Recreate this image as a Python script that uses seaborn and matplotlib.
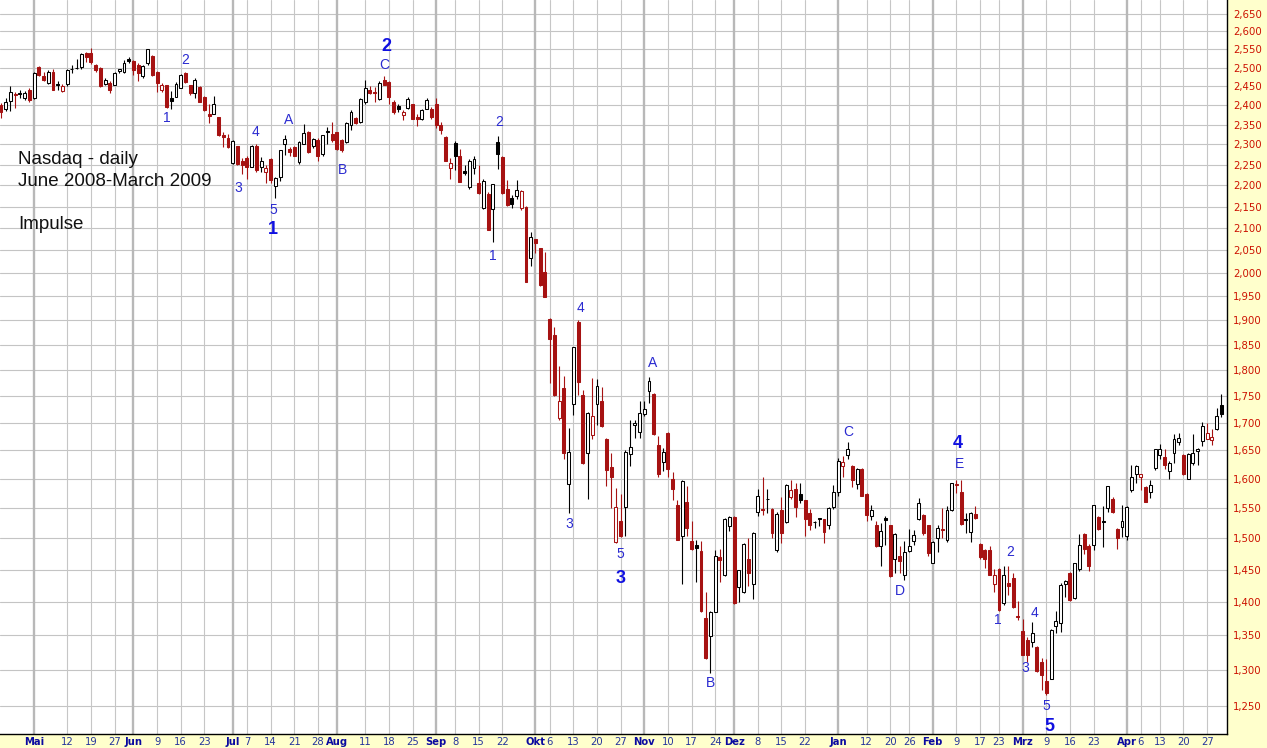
import numpy as np
import pandas as pd
import matplotlib
matplotlib.use('Agg')
import matplotlib.pyplot as plt
import matplotlib.ticker as mticker
import seaborn as sns

# Trading days (US market holidays removed)
holidays = ['2008-05-26', '2008-07-04', '2008-09-01', '2008-11-27', '2008-12-25',
            '2009-01-01', '2009-01-19', '2009-02-16', '2009-04-10']
dates = pd.bdate_range('2008-04-22', '2009-04-30', freq='C', holidays=holidays)

opens = [
    2400, 2391, 2411, 2430, 2431, 2418, 2441, 2419, 2502, 2478,
    2459, 2487, 2456, 2437, 2456, 2497, 2500, 2502, 2541, 2540,
    2508, 2500, 2456, 2459, 2454, 2490, 2489, 2522, 2518, 2506,
    2476, 2511, 2532, 2489, 2439, 2452, 2418, 2422, 2445, 2484,
    2452, 2432, 2447, 2421, 2378, 2378, 2368, 2323, 2316, 2254,
    2296, 2260, 2265, 2245, 2297, 2243, 2232, 2264, 2199, 2219,
    2300, 2288, 2294, 2256, 2302, 2331, 2295, 2310, 2277, 2333,
    2327, 2330, 2312, 2307, 2350, 2367, 2357, 2407, 2441, 2434,
    2416, 2467, 2461, 2407, 2398, 2374, 2393, 2402, 2368, 2363,
    2391, 2391, 2404, 2350, 2318, 2241, 2303, 2272, 2235, 2196,
    2241, 2206, 2147, 2180, 2145, 2305, 2268, 2192, 2169, 2174,
    2147, 2150, 2033, 2075, 2055, 2003, 1902, 1870, 1709, 1765,
    1591, 1735, 1897, 1753, 1645, 1678, 1735, 1741, 1671, 1621,
    1494, 1528, 1551, 1643, 1697, 1684, 1717, 1760, 1755, 1660,
    1630, 1682, 1599, 1556, 1503, 1560, 1496, 1489, 1480, 1375,
    1349, 1385, 1470, 1441, 1520, 1535, 1423, 1415, 1466, 1427,
    1543, 1549, 1566, 1548, 1481, 1546, 1527, 1568, 1583, 1573,
    1563, 1541, 1527, 1534, 1531, 1522, 1551, 1578, 1622, 1641,
    1623, 1591, 1617, 1574, 1536, 1522, 1488, 1533, 1521, 1466,
    1472, 1441, 1480, 1495, 1531, 1539, 1521, 1460, 1500, 1514,
    1497, 1546, 1590, 1577, 1532, 1511, 1540, 1490, 1481, 1481,
    1427, 1451, 1398, 1429, 1436, 1379, 1357, 1343, 1340, 1333,
    1312, 1285, 1288, 1364, 1369, 1428, 1445, 1406, 1451, 1507,
    1488, 1489, 1535, 1528, 1550, 1565, 1516, 1518, 1503, 1580,
    1609, 1604, 1586, 1577, 1618, 1641, 1638, 1613, 1645, 1665,
    1642, 1600, 1628, 1649, 1667, 1671, 1668, 1688, 1734,
]
highs = [
    2405, 2418, 2450, 2434, 2441, 2438, 2445, 2487, 2503, 2489,
    2493, 2497, 2463, 2456, 2496, 2506, 2524, 2541, 2543, 2554,
    2510, 2502, 2471, 2463, 2489, 2497, 2520, 2529, 2520, 2511,
    2506, 2552, 2534, 2491, 2459, 2454, 2436, 2461, 2482, 2487,
    2454, 2473, 2450, 2423, 2402, 2425, 2370, 2331, 2327, 2310,
    2297, 2265, 2272, 2299, 2300, 2268, 2248, 2266, 2220, 2287,
    2324, 2293, 2297, 2308, 2352, 2333, 2316, 2315, 2324, 2344,
    2356, 2331, 2314, 2356, 2387, 2370, 2419, 2467, 2450, 2447,
    2463, 2476, 2463, 2413, 2402, 2387, 2420, 2404, 2378, 2391,
    2418, 2396, 2418, 2357, 2320, 2265, 2308, 2289, 2248, 2264,
    2272, 2248, 2216, 2184, 2204, 2322, 2270, 2212, 2176, 2212,
    2190, 2152, 2092, 2076, 2055, 2046, 1905, 1887, 1808, 1788,
    1690, 1845, 1900, 1762, 1720, 1785, 1783, 1768, 1673, 1645,
    1584, 1574, 1650, 1705, 1705, 1741, 1740, 1786, 1757, 1676,
    1654, 1683, 1612, 1564, 1598, 1588, 1528, 1498, 1495, 1415,
    1386, 1481, 1483, 1533, 1537, 1536, 1450, 1493, 1500, 1511,
    1583, 1603, 1583, 1550, 1543, 1568, 1591, 1598, 1593, 1593,
    1564, 1549, 1528, 1534, 1532, 1552, 1590, 1636, 1640, 1666,
    1625, 1619, 1619, 1575, 1556, 1528, 1525, 1537, 1522, 1508,
    1488, 1496, 1516, 1514, 1567, 1540, 1522, 1495, 1522, 1550,
    1553, 1593, 1598, 1598, 1542, 1543, 1553, 1492, 1482, 1487,
    1451, 1452, 1455, 1455, 1444, 1401, 1374, 1348, 1370, 1334,
    1317, 1316, 1359, 1386, 1429, 1434, 1446, 1461, 1507, 1508,
    1491, 1555, 1536, 1554, 1588, 1569, 1517, 1556, 1554, 1624,
    1625, 1609, 1587, 1598, 1653, 1662, 1652, 1631, 1679, 1682,
    1644, 1645, 1680, 1654, 1701, 1700, 1689, 1727, 1755,
]
lows = [
    2366, 2384, 2384, 2393, 2418, 2414, 2409, 2417, 2478, 2463,
    2456, 2439, 2441, 2435, 2450, 2484, 2496, 2496, 2515, 2510,
    2489, 2447, 2452, 2433, 2452, 2484, 2484, 2511, 2480, 2463,
    2473, 2508, 2476, 2434, 2434, 2393, 2391, 2420, 2444, 2458,
    2427, 2418, 2407, 2385, 2354, 2376, 2321, 2293, 2291, 2252,
    2250, 2228, 2216, 2244, 2233, 2232, 2205, 2206, 2170, 2210,
    2274, 2272, 2270, 2252, 2300, 2278, 2291, 2260, 2272, 2300,
    2307, 2285, 2281, 2304, 2336, 2352, 2354, 2404, 2428, 2407,
    2413, 2452, 2404, 2376, 2383, 2361, 2391, 2363, 2347, 2361,
    2389, 2364, 2340, 2325, 2258, 2216, 2238, 2208, 2224, 2192,
    2228, 2180, 2144, 2097, 2068, 2239, 2180, 2152, 2147, 2168,
    2142, 1981, 2015, 2044, 1973, 1948, 1776, 1750, 1706, 1634,
    1542, 1715, 1752, 1626, 1565, 1670, 1696, 1693, 1587, 1550,
    1493, 1502, 1503, 1622, 1672, 1672, 1712, 1738, 1678, 1603,
    1614, 1603, 1563, 1497, 1428, 1503, 1481, 1430, 1385, 1316,
    1296, 1384, 1430, 1440, 1512, 1397, 1400, 1413, 1424, 1404,
    1536, 1539, 1542, 1500, 1478, 1492, 1525, 1566, 1535, 1558,
    1503, 1514, 1517, 1520, 1493, 1516, 1548, 1571, 1604, 1635,
    1586, 1583, 1570, 1528, 1530, 1486, 1456, 1489, 1439, 1444,
    1444, 1433, 1478, 1489, 1530, 1505, 1472, 1460, 1478, 1500,
    1494, 1545, 1575, 1521, 1509, 1494, 1531, 1467, 1452, 1441,
    1415, 1386, 1396, 1411, 1391, 1373, 1322, 1312, 1333, 1297,
    1273, 1265, 1287, 1353, 1355, 1408, 1401, 1404, 1447, 1474,
    1448, 1481, 1513, 1486, 1544, 1541, 1482, 1502, 1497, 1577,
    1593, 1580, 1560, 1567, 1616, 1635, 1617, 1599, 1628, 1660,
    1606, 1600, 1625, 1625, 1658, 1670, 1660, 1687, 1711,
]
closes = [
    2383, 2407, 2434, 2427, 2429, 2431, 2414, 2484, 2480, 2467,
    2489, 2441, 2452, 2451, 2493, 2495, 2498, 2536, 2529, 2515,
    2493, 2450, 2467, 2441, 2484, 2495, 2511, 2518, 2493, 2484,
    2503, 2550, 2479, 2459, 2452, 2395, 2411, 2456, 2480, 2461,
    2432, 2467, 2409, 2387, 2372, 2402, 2323, 2319, 2293, 2308,
    2252, 2248, 2243, 2297, 2236, 2258, 2241, 2213, 2217, 2285,
    2314, 2282, 2272, 2306, 2328, 2280, 2313, 2272, 2323, 2331,
    2311, 2289, 2285, 2353, 2381, 2355, 2417, 2445, 2433, 2431,
    2459, 2454, 2422, 2381, 2391, 2383, 2417, 2365, 2363, 2387,
    2413, 2370, 2350, 2336, 2260, 2255, 2270, 2209, 2230, 2260,
    2264, 2182, 2210, 2097, 2202, 2275, 2182, 2153, 2157, 2188,
    2186, 1981, 2081, 2066, 1974, 1949, 1863, 1752, 1741, 1645,
    1648, 1845, 1778, 1628, 1718, 1712, 1770, 1694, 1615, 1603,
    1552, 1504, 1648, 1657, 1699, 1719, 1725, 1780, 1680, 1608,
    1648, 1617, 1582, 1498, 1597, 1517, 1482, 1484, 1386, 1317,
    1384, 1471, 1465, 1532, 1535, 1398, 1449, 1491, 1445, 1509,
    1570, 1547, 1565, 1508, 1540, 1509, 1590, 1580, 1552, 1564,
    1532, 1522, 1526, 1532, 1510, 1550, 1577, 1632, 1629, 1652,
    1598, 1617, 1570, 1538, 1547, 1487, 1512, 1530, 1440, 1507,
    1463, 1478, 1488, 1506, 1558, 1508, 1476, 1494, 1517, 1516,
    1547, 1592, 1591, 1524, 1530, 1542, 1534, 1470, 1466, 1442,
    1441, 1387, 1441, 1425, 1392, 1377, 1322, 1321, 1353, 1299,
    1293, 1268, 1358, 1371, 1426, 1432, 1403, 1461, 1489, 1483,
    1455, 1555, 1515, 1526, 1587, 1543, 1500, 1528, 1552, 1603,
    1623, 1608, 1561, 1590, 1652, 1653, 1625, 1628, 1671, 1673,
    1608, 1644, 1646, 1652, 1694, 1682, 1674, 1712, 1717,
]

month_names = {1: 'Jan', 2: 'Feb', 3: 'Mrz', 4: 'Apr', 5: 'Mai', 6: 'Jun',
               7: 'Jul', 8: 'Aug', 9: 'Sep', 10: 'Okt', 11: 'Nov', 12: 'Dez'}
price_levels = list(range(1250, 2700, 50))

# wave labels: (position in trading days, price, text)
small_labels = [(35.1, 2367, '1'), (38.9, 2521, '2'), (50.1, 2194, '3'), (53.9, 2331, '4'),
                (57.5, 2142, '5'), (60.7, 2362, 'A'), (72.3, 2237, 'B'), (81.0, 2507, 'C'),
                (104.0, 2038, '1'), (105.3, 2357, '2'), (120.1, 1523, '3'), (122.6, 1926, '4'),
                (130.9, 1474, '5'), (137.8, 1814, 'A'), (149.9, 1282, 'B'), (179.1, 1683, 'C'),
                (190.1, 1416, 'D'), (202.7, 1626, 'E'), (210.8, 1372, '1'), (213.3, 1478, '2'),
                (216.5, 1303, '3'), (218.4, 1383, '4'), (221.1, 1250, '5')]
big_labels = [(57.5, 2098, '1'), (81.4, 2557, '2'), (130.9, 1436, '3'),
              (202.3, 1663, '4'), (221.6, 1223, '5')]

df = pd.DataFrame({'date': dates, 'open': opens, 'high': highs, 'low': lows, 'close': closes})
df['pos'] = np.arange(len(df))
df['prev'] = df['close'].shift(1).fillna(df['open'])

RED = '#a61212'
df['colour'] = np.where(df['close'] >= df['prev'], 'black', RED)
df['face'] = np.where(df['close'] > df['open'], 'white', df['colour'])
df['body_lo'] = df[['open', 'close']].min(axis=1)
df['body_h'] = (df['close'] - df['open']).abs().clip(lower=0.3)

# ticks: first trading day of each month (bold) and of each week
new_month = df['date'].dt.month != df['date'].shift(1).dt.month
new_week = df['date'].dt.isocalendar().week != df['date'].shift(1).dt.isocalendar().week
new_month.iloc[0] = False
new_week.iloc[0] = False
month_pos = df.loc[new_month, 'pos'].tolist()
ticks = []
for p in df.loc[new_month | new_week, 'pos']:
    if p in month_pos:
        ticks.append((p, month_names[df.loc[p, 'date'].month], True))
        continue
    if any(0 < m - p <= 3 or 0 < p - m <= 2 for m in month_pos):
        continue
    ticks.append((p, str(df.loc[p, 'date'].day), False))

sns.set_theme(style='white')
plt.rcParams['font.family'] = ['DejaVu Sans']

fig = plt.figure(figsize=(12.67, 7.48), dpi=100, facecolor='#ffffcc')
ax = fig.add_axes([0, 14 / 748, 1227 / 1267, 734 / 748])
ax.set_facecolor('white')

ax.set_yscale('log')
ax.set_ylim(1213, 2690)
ax.set_xlim(-0.21, 259.2)

for lv in price_levels:
    ax.axhline(lv, color='#c4c4c4', lw=0.8, zorder=0)
for p, lab, is_month in ticks:
    ax.axvline(p, color='#b8b8b8' if is_month else '#c6c6c6',
               lw=1.7 if is_month else 0.8, zorder=0)

ax.vlines(df['pos'], df['low'], df['high'], colors=df['colour'], lw=0.8, zorder=2)
ax.bar(df['pos'], df['body_h'], bottom=df['body_lo'], width=0.62,
       color=df['face'], edgecolor=df['colour'], linewidth=0.75, zorder=3)

ax.yaxis.tick_right()
ax.yaxis.set_major_locator(mticker.FixedLocator(price_levels))
ax.yaxis.set_minor_locator(mticker.NullLocator())
ax.yaxis.set_major_formatter(mticker.FuncFormatter(lambda v, _: f'{v:,.0f}'))
ax.tick_params(axis='y', length=0, pad=4.5, labelsize=7.3, labelcolor='#cc1100')

ax.set_xticks([t[0] for t in ticks])
ax.set_xticklabels([t[1] for t in ticks])
for lab, t in zip(ax.get_xticklabels(), ticks):
    if t[2]:
        lab.set_fontweight('bold')
        lab.set_color('#0a0aa0')
    else:
        lab.set_color('#24349c')
ax.tick_params(axis='x', length=0, pad=2, labelsize=7.2)

for s in ['top', 'left']:
    ax.spines[s].set_visible(False)
for s in ['right', 'bottom']:
    ax.spines[s].set_color('black')
    ax.spines[s].set_linewidth(1.0)

for x, y, t in small_labels:
    ax.text(x, y, t, ha='center', va='center', fontsize=10, color='#2a2ad0',
            family='Liberation Sans', zorder=4)
for x, y, t in big_labels:
    ax.text(x, y, t, ha='center', va='center', fontsize=13, color='#1010e0',
            family='Liberation Sans', fontweight='bold', zorder=4)

for txt, yb in [('Nasdaq - daily', 163.5), ('June 2008-March 2009', 185.5), ('Impulse', 229)]:
    fig.text(18 / 1267, 1 - yb / 748, txt, ha='left', va='baseline', fontsize=13.5,
             color='#111111', family='Liberation Sans')

fig.savefig('out.png', dpi=100, facecolor=fig.get_facecolor())
